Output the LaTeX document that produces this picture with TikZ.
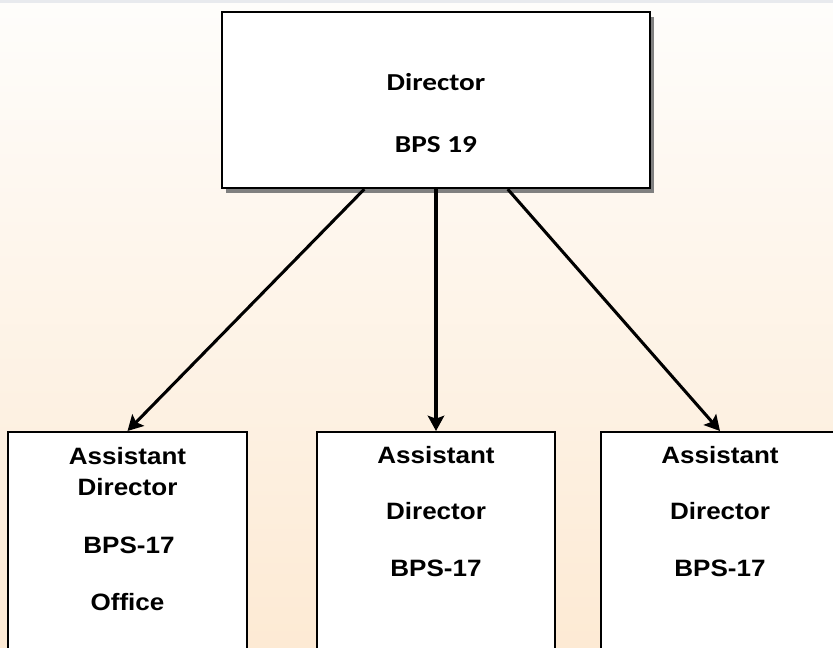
\documentclass[tikz,border=0pt]{standalone}
\usepackage{fontspec}
\newfontfamily\headfont[FakeStretch=1.2]{Carlito}
\newfontfamily\boxfont[FakeStretch=1.1]{Liberation Sans}
\usetikzlibrary{arrows.meta, shadows, calc}
\definecolor{peach}{RGB}{253,234,212}
\definecolor{paper}{RGB}{254,253,251}
\definecolor{stripgray}{RGB}{232,234,238}

\begin{document}
\begin{tikzpicture}[x=0.03cm, y=-0.03cm,
    post/.style={draw=black, line width=2pt, fill=white, rectangle, inner sep=0pt},
    toplbl/.style={anchor=base, inner sep=0pt, font=\headfont\bfseries\fontsize{20.8}{25}\selectfont},
    lbl/.style={anchor=base, inner sep=0pt, font=\boxfont\bfseries\fontsize{20.2}{24}\selectfont},
    link/.style={line width=2.6pt, -{Stealth[length=13pt, width=14pt, inset=2.5pt]}}]
\useasboundingbox (0,0) rectangle (833,648);
\begin{scope}
\clip (0,0) rectangle (833,648);
\shade[top color=paper, bottom color=peach] (0,0) rectangle (833,648);
\fill[stripgray] (0,0) rectangle (833,3);

\node[post, drop shadow={shadow xshift=0.13cm, shadow yshift=-0.16cm, fill=black!50, opacity=1},
    minimum width=12.84cm, minimum height=5.28cm] (dir) at (436,100) {};
\node[toplbl] (dirname) at (436,90.7) {Director};
\node[toplbl] (dirgrade) at (436,152.7) {BPS 19};

\node[post, anchor=north, minimum width=7.17cm, minimum height=7.5cm] (adl) at (127.5,431) {};
\node[lbl] (adlname) at (127.5,464) {Assistant};
\node[lbl] (adlpost) at (127.5,495) {Director};
\node[lbl] (adlgrade) at (129,553) {BPS-17};
\node[lbl] (adlunit) at (127.5,610) {Office};

\node[post, anchor=north, minimum width=7.14cm, minimum height=7.5cm] (adm) at (436,431) {};
\node[lbl] (admname) at (436,463.5) {Assistant};
\node[lbl] (admpost) at (436,519.3) {Director};
\node[lbl] (admgrade) at (436,576.7) {BPS-17};

\node[post, anchor=north, minimum width=7.14cm, minimum height=7.5cm] (adr) at (720,431) {};
\node[lbl] (adrname) at (720,463.5) {Assistant};
\node[lbl] (adrpost) at (720,519.3) {Director};
\node[lbl] (adrgrade) at (720,576.7) {BPS-17};

\draw[link] ($(dir.south west)!1/3!(dir.south east)$) -- (adl.north);
\draw[link] (dir.south) -- (adm.north);
\draw[link] ($(dir.south west)!2/3!(dir.south east)$) -- (adr.north);
\end{scope}
\end{tikzpicture}
\end{document}
